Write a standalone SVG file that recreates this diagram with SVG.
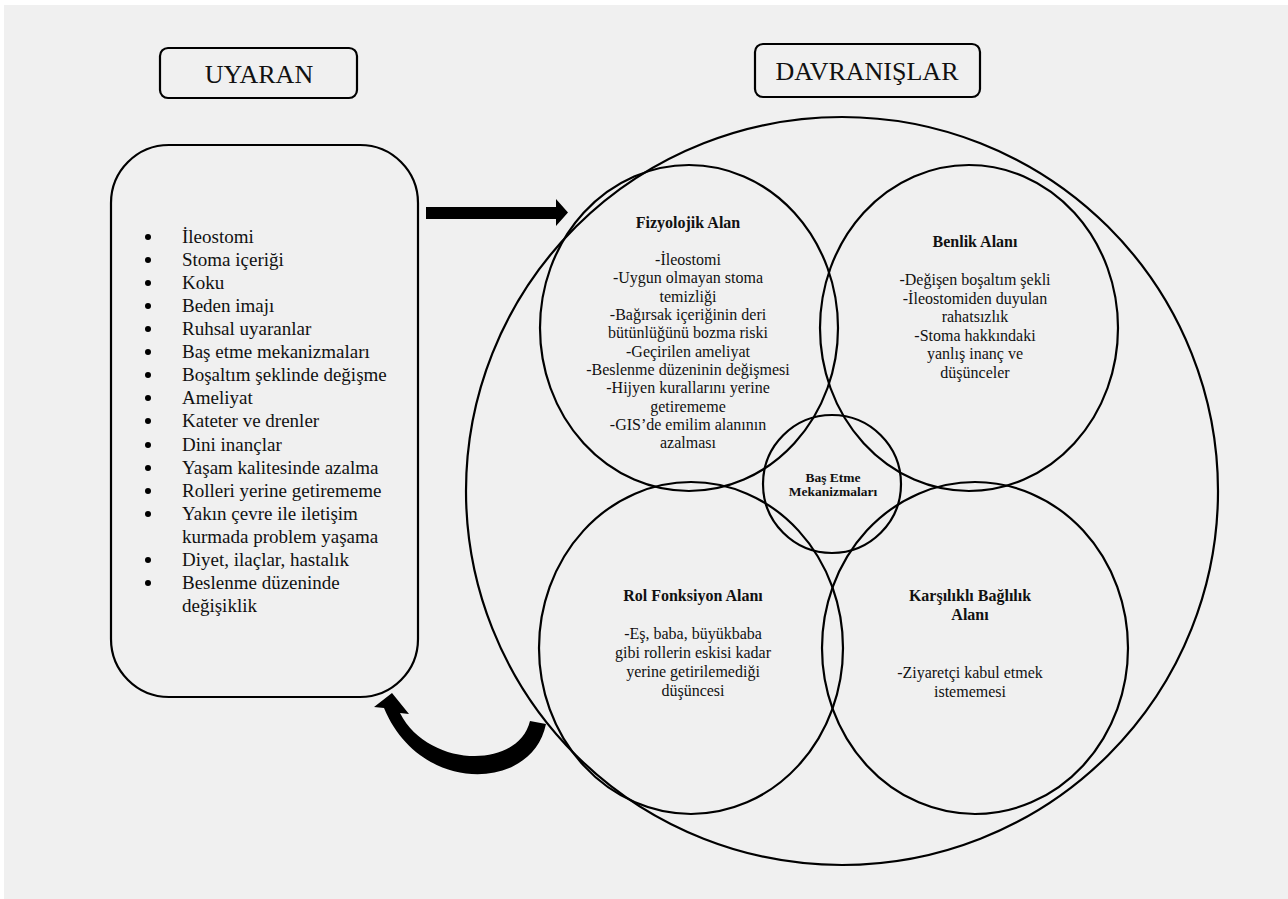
<svg xmlns="http://www.w3.org/2000/svg" width="1288" height="899" viewBox="0 0 1288 899">
<defs>
<style>
.bg{fill:#f0f0f0}
.ln{fill:none;stroke:#000;stroke-width:2.2}
.title{font-size:26px;text-anchor:middle;fill:#111}
.li{font-size:19px;fill:#111}
.c{font-size:16px;text-anchor:middle;fill:#111}
.h{font-size:16px;font-weight:bold;text-anchor:middle;fill:#111}
.s{font-size:13.5px;font-weight:bold;text-anchor:middle;fill:#111}
</style>
</defs>
<rect width="1288" height="899" fill="#ffffff"/>
<rect x="4" y="5" width="1284" height="894" class="bg"/>

<g id="uyaran-title" font-family="Liberation Serif, serif">
<rect x="160" y="48" width="197" height="50" rx="8" class="ln"/>
<text x="259" y="83" class="title">UYARAN</text>
</g>

<g id="davranislar-title" font-family="Liberation Serif, serif">
<rect x="755" y="44" width="225" height="53" rx="8" class="ln"/>
<text x="867" y="80" class="title">DAVRANIŞLAR</text>
</g>

<g id="uyaran-list" font-family="Liberation Serif, serif">
<rect x="111" y="145" width="307" height="552" rx="58" class="ln"/>
<g class="li">
<text x="182" y="243">İleostomi</text>
<text x="182" y="266">Stoma içeriği</text>
<text x="182" y="289">Koku</text>
<text x="182" y="312">Beden imajı</text>
<text x="182" y="335">Ruhsal uyaranlar</text>
<text x="182" y="358">Baş etme mekanizmaları</text>
<text x="182" y="381">Boşaltım şeklinde değişme</text>
<text x="182" y="404">Ameliyat</text>
<text x="182" y="427">Kateter ve drenler</text>
<text x="182" y="451">Dini inançlar</text>
<text x="182" y="474">Yaşam kalitesinde azalma</text>
<text x="182" y="497">Rolleri yerine getirememe</text>
<text x="182" y="520">Yakın çevre ile iletişim</text>
<text x="182" y="543">kurmada problem yaşama</text>
<text x="182" y="566">Diyet, ilaçlar, hastalık</text>
<text x="182" y="589">Beslenme düzeninde</text>
<text x="182" y="612">değişiklik</text>
</g>
<g fill="#000">
<circle cx="148" cy="237" r="3"/>
<circle cx="148" cy="260" r="3"/>
<circle cx="148" cy="283" r="3"/>
<circle cx="148" cy="306" r="3"/>
<circle cx="148" cy="329" r="3"/>
<circle cx="148" cy="352" r="3"/>
<circle cx="148" cy="375" r="3"/>
<circle cx="148" cy="398" r="3"/>
<circle cx="148" cy="421" r="3"/>
<circle cx="148" cy="445" r="3"/>
<circle cx="148" cy="468" r="3"/>
<circle cx="148" cy="491" r="3"/>
<circle cx="148" cy="514" r="3"/>
<circle cx="148" cy="560" r="3"/>
<circle cx="148" cy="583" r="3"/>
</g>
</g>

<g id="davranislar-circle">
<ellipse cx="842" cy="491" rx="376" ry="374" class="ln"/>
</g>

<g id="fizyolojik" font-family="Liberation Serif, serif">
<ellipse cx="689" cy="328" rx="149" ry="163" class="ln"/>
<text x="688" y="228" class="h">Fizyolojik Alan</text>
<g class="c">
<text x="688" y="265">-İleostomi</text>
<text x="688" y="283">-Uygun olmayan stoma</text>
<text x="688" y="302">temizliği</text>
<text x="688" y="320">-Bağırsak içeriğinin deri</text>
<text x="688" y="338">bütünlüğünü bozma riski</text>
<text x="688" y="357">-Geçirilen ameliyat</text>
<text x="688" y="375">-Beslenme düzeninin değişmesi</text>
<text x="688" y="393">-Hijyen kurallarını yerine</text>
<text x="688" y="412">getirememe</text>
<text x="688" y="430">-GIS’de emilim alanının</text>
<text x="688" y="448">azalması</text>
</g>
</g>

<g id="benlik" font-family="Liberation Serif, serif">
<ellipse cx="969" cy="328" rx="149" ry="163" class="ln"/>
<text x="975" y="247" class="h">Benlik Alanı</text>
<g class="c">
<text x="975" y="285">-Değişen boşaltım şekli</text>
<text x="975" y="304">-İleostomiden duyulan</text>
<text x="975" y="322">rahatsızlık</text>
<text x="975" y="341">-Stoma hakkındaki</text>
<text x="975" y="359">yanlış inanç ve</text>
<text x="975" y="378">düşünceler</text>
</g>
</g>

<g id="rol-fonksiyon" font-family="Liberation Serif, serif">
<ellipse cx="691" cy="648" rx="152" ry="166" class="ln"/>
<text x="693" y="601" class="h">Rol Fonksiyon Alanı</text>
<g class="c">
<text x="693" y="639">-Eş, baba, büyükbaba</text>
<text x="693" y="658">gibi rollerin eskisi kadar</text>
<text x="693" y="677">yerine getirilemediği</text>
<text x="693" y="696">düşüncesi</text>
</g>
</g>

<g id="karsilikli" font-family="Liberation Serif, serif">
<ellipse cx="975" cy="648" rx="153" ry="166" class="ln"/>
<text x="970" y="601" class="h">Karşılıklı Bağlılık</text>
<text x="970" y="620" class="h">Alanı</text>
<g class="c">
<text x="970" y="678">-Ziyaretçi kabul etmek</text>
<text x="970" y="697">istememesi</text>
</g>
</g>

<g id="bas-etme" font-family="Liberation Serif, serif">
<circle cx="832" cy="484" r="69" class="ln"/>
<text x="833" y="482" class="s">Baş Etme</text>
<text x="833" y="496" class="s">Mekanizmaları</text>
</g>

<g id="connectors">
<path d="M426,207 L556,207 L556,199 L568,212.5 L556,226 L556,219 L426,219 Z" fill="#000"/>
<path d="M546,724 C532,792 420,795 384,708 L374,707 L392,693 L409,714 L400,713 C428,768 518,770 530,721 Z" fill="#000"/>
</g>
</svg>
